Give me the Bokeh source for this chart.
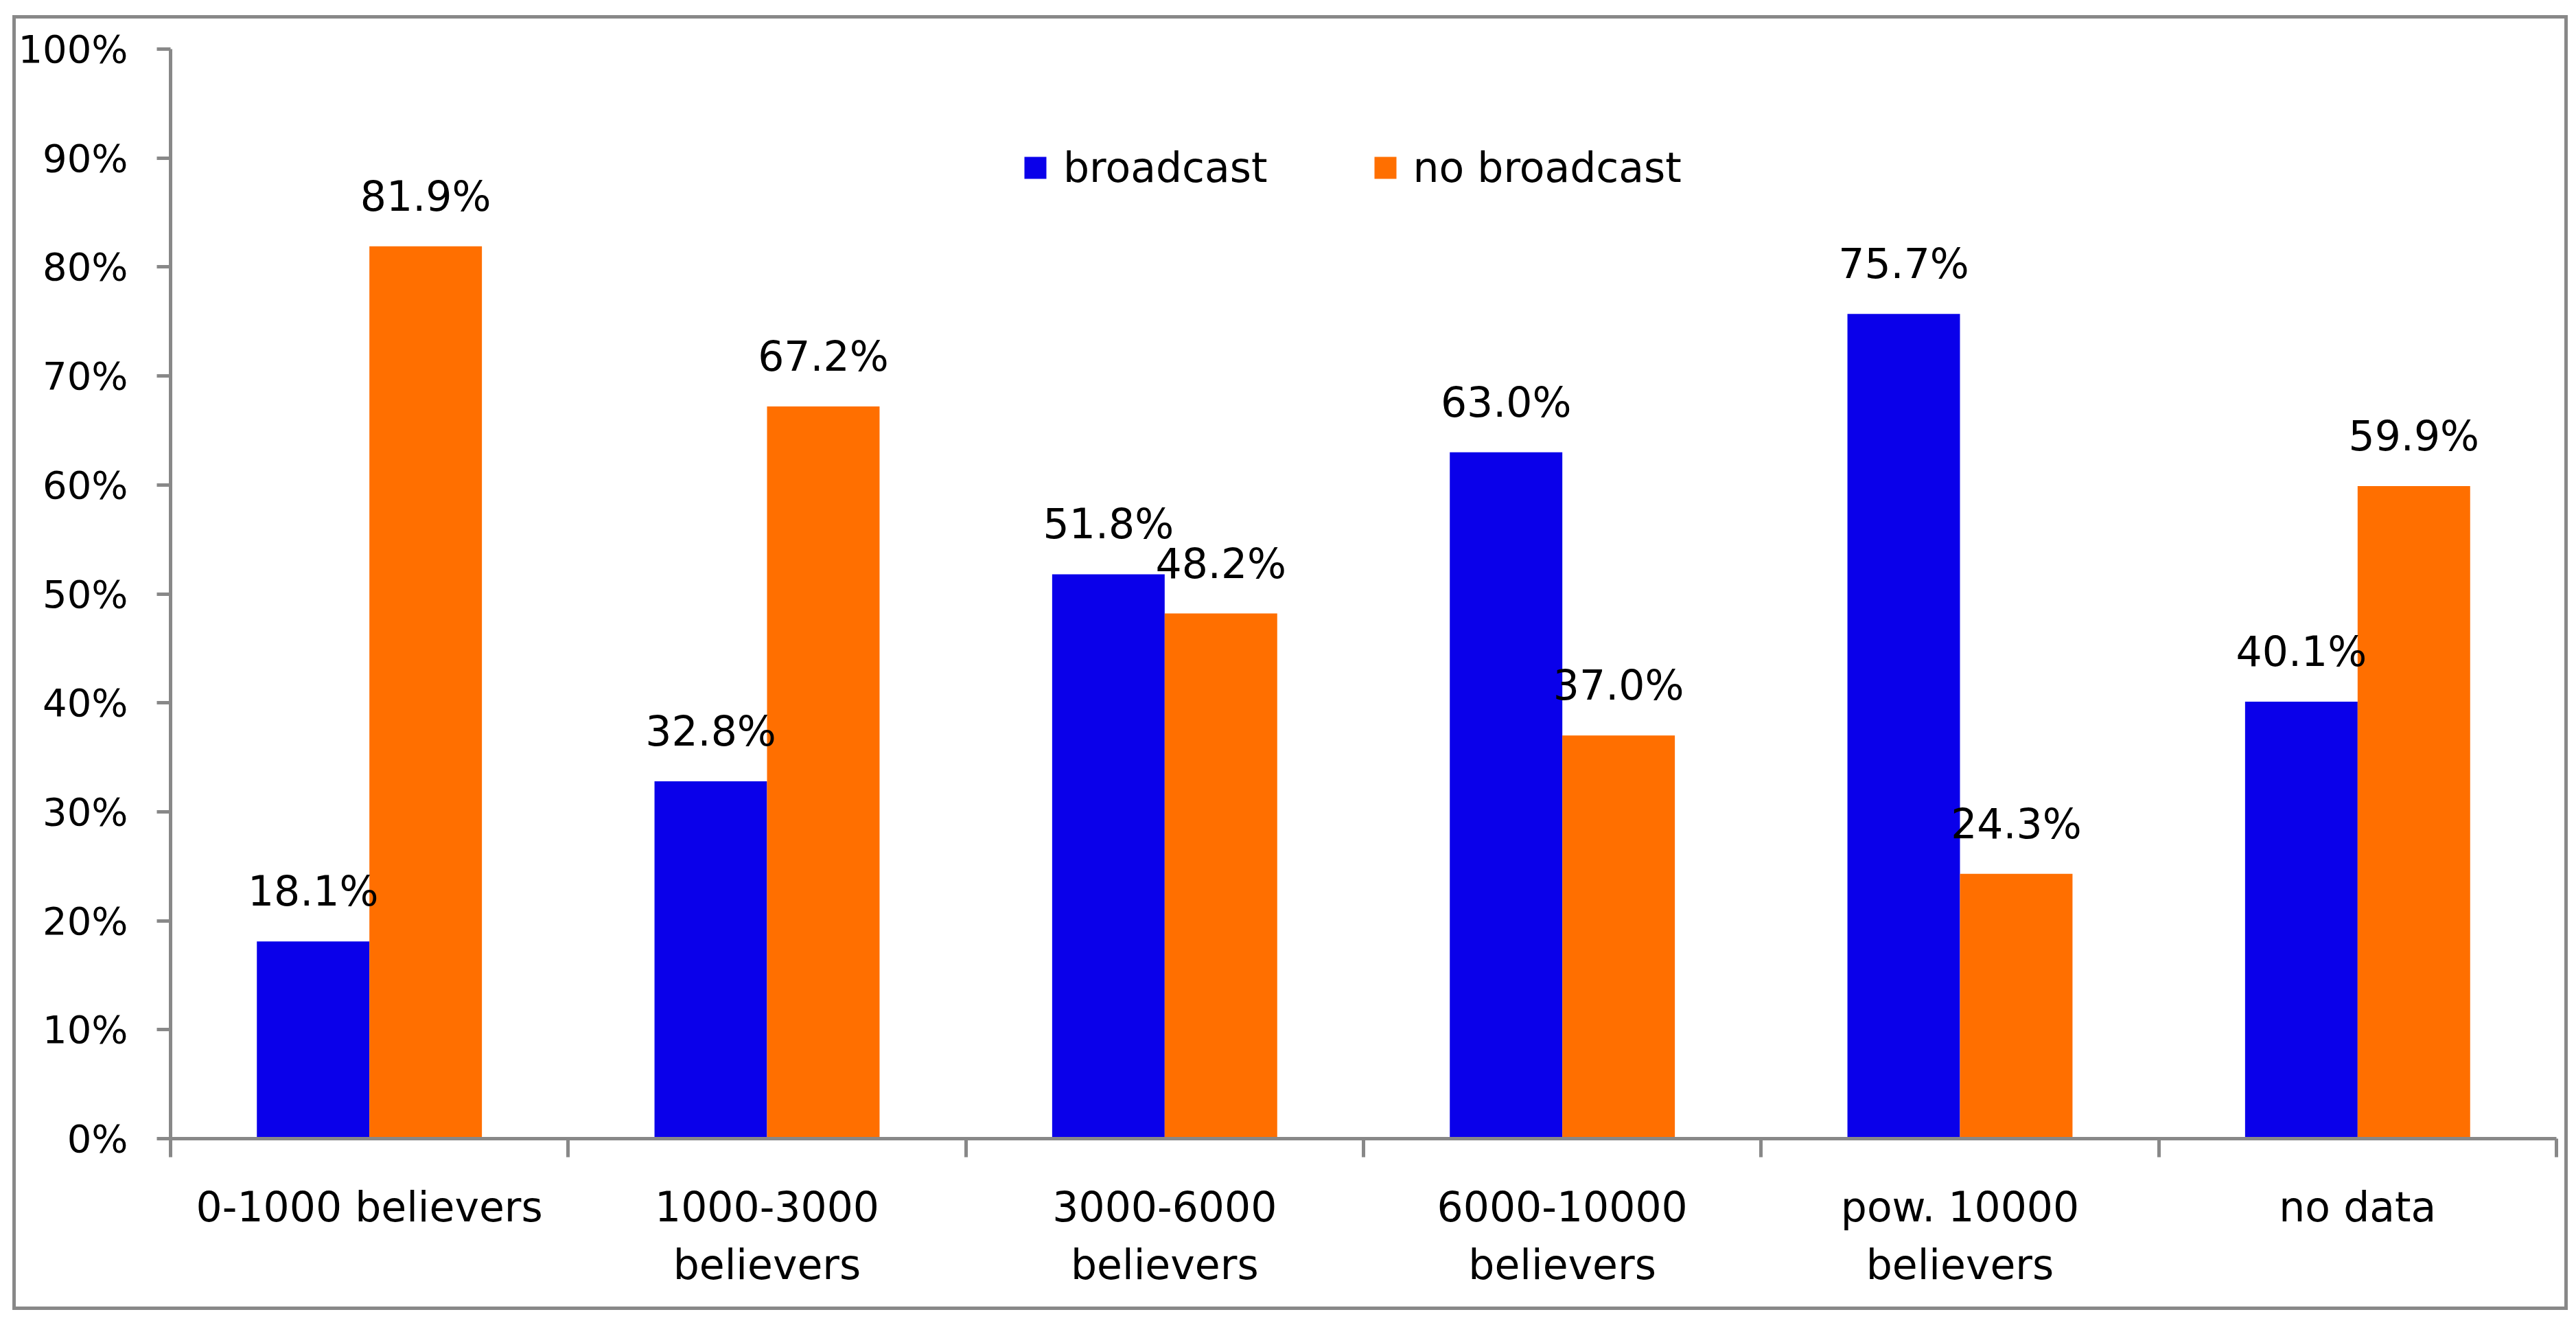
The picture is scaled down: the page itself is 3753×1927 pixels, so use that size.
from bokeh.plotting import figure
from bokeh.models import (Range1d, FixedTicker, PrintfTickFormatter, LinearAxis,
                          Legend, LegendItem, ColumnDataSource)
from bokeh.transform import dodge
from bokeh.core.properties import value
from bokeh.embed import file_html
from bokeh.resources import INLINE

# ---- data ----
categories = ["0-1000 believers", "1000-3000\nbelievers", "3000-6000\nbelievers",
              "6000-10000\nbelievers", "pow. 10000\nbelievers", "no data"]
broadcast = [18.1, 32.8, 51.8, 63.0, 75.7, 40.1]
no_broadcast = [81.9, 67.2, 48.2, 37.0, 24.3, 59.9]
series_names = ["broadcast", "no broadcast"]
y_ticks = [0, 10, 20, 30, 40, 50, 60, 70, 80, 90, 100]

# ---- style ----
FONT = "DejaVu Sans"
FS = "60px"
BLUE = "#0A00EA"
ORANGE = "#FF6F00"
GRAY = "#888888"
BAR_W = 0.283
OFF = BAR_W / 2

centers = [i + 0.5 for i in range(len(categories))]
boundaries = list(range(len(categories) + 1))

src = ColumnDataSource(dict(
    x=centers,
    b=broadcast,
    n=no_broadcast,
    bl=[f"{v:.1f}%" for v in broadcast],
    nl=[f"{v:.1f}%" for v in no_broadcast],
))

p = figure(frame_width=3476, frame_height=1587,
           min_border_left=221, min_border_right=12,
           min_border_top=44, min_border_bottom=245,
           x_range=Range1d(0, len(categories)), y_range=Range1d(0, 100),
           x_axis_type=None, y_axis_type=None,
           output_backend="svg", toolbar_location=None)
p.outline_line_color = None
p.background_fill_color = "white"
p.border_fill_color = "white"
p.styles = {"border": "5px solid #888888", "margin-left": "18px",
            "margin-top": "22px"}

r1 = p.vbar(x=dodge("x", -OFF), top="b", width=BAR_W, source=src,
            fill_color=BLUE, line_color=None)
r2 = p.vbar(x=dodge("x", OFF), top="n", width=BAR_W, source=src,
            fill_color=ORANGE, line_color=None)

for fld, lab, off in (("b", "bl", -OFF), ("n", "nl", OFF)):
    p.text(x=dodge("x", off), y=fld, text=lab, source=src,
           text_align="center", text_baseline="alphabetic", y_offset=-73,
           text_font=value(FONT), text_font_size=FS, text_color="black")

yaxis = LinearAxis(ticker=FixedTicker(ticks=y_ticks),
                   formatter=PrintfTickFormatter(format="%d%%"),
                   axis_line_color=GRAY, axis_line_width=5,
                   major_tick_line_color=GRAY, major_tick_line_width=5,
                   major_tick_out=20, major_tick_in=0,
                   minor_tick_line_color=None,
                   major_label_standoff=42,
                   major_label_text_font=FONT, major_label_text_font_size="56px",
                   major_label_text_color="black")
p.add_layout(yaxis, "left")

xaxis = LinearAxis(ticker=FixedTicker(ticks=centers, minor_ticks=boundaries),
                   major_label_overrides={c: lab for c, lab in zip(centers, categories)},
                   axis_line_color=GRAY, axis_line_width=5,
                   major_tick_line_color=None, major_tick_out=0, major_tick_in=0,
                   minor_tick_line_color=GRAY, minor_tick_line_width=5,
                   minor_tick_out=27, minor_tick_in=0,
                   major_label_standoff=37,
                   major_label_text_font=FONT, major_label_text_font_size=FS,
                   major_label_text_color="black")
p.add_layout(xaxis, "below")

legend = Legend(items=[LegendItem(label=series_names[0], renderers=[r1]),
                       LegendItem(label=series_names[1], renderers=[r2])],
                orientation="horizontal", location=(1240, 1379),
                glyph_width=40, glyph_height=40, label_standoff=21, spacing=151,
                padding=0, margin=0, border_line_color=None,
                background_fill_alpha=0,
                label_text_font=FONT, label_text_font_size=FS,
                label_text_color="black")
p.add_layout(legend)

open("out.html", "w").write(file_html(p, INLINE))
